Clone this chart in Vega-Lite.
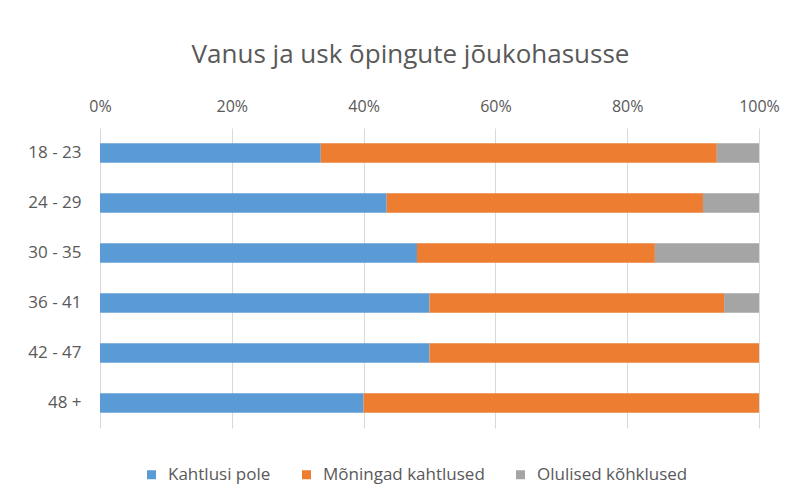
{
  "$schema": "https://vega.github.io/schema/vega-lite/v6.json",
  "width": 659,
  "height": 300,
  "autosize": {"type": "none"},
  "padding": {"left": 100, "top": 128, "right": 44, "bottom": 76},
  "background": "white",
  "title": {
    "text": "Vanus ja usk õpingute jõukohasusse",
    "font": "Open Sans",
    "fontSize": 26,
    "fontWeight": "normal",
    "color": "#595959",
    "anchor": "middle",
    "dx": -19,
    "offset": 30
  },
  "data": {
    "values": [
      {"vanus": "18 - 23", "vastus": "Kahtlusi pole", "osa": 33.5},
      {"vanus": "18 - 23", "vastus": "Mõningad kahtlused", "osa": 60.1},
      {"vanus": "18 - 23", "vastus": "Olulised kõhklused", "osa": 6.4},
      {"vanus": "24 - 29", "vastus": "Kahtlusi pole", "osa": 43.5},
      {"vanus": "24 - 29", "vastus": "Mõningad kahtlused", "osa": 48.0},
      {"vanus": "24 - 29", "vastus": "Olulised kõhklused", "osa": 8.5},
      {"vanus": "30 - 35", "vastus": "Kahtlusi pole", "osa": 48.1},
      {"vanus": "30 - 35", "vastus": "Mõningad kahtlused", "osa": 36.1},
      {"vanus": "30 - 35", "vastus": "Olulised kõhklused", "osa": 15.8},
      {"vanus": "36 - 41", "vastus": "Kahtlusi pole", "osa": 50.0},
      {"vanus": "36 - 41", "vastus": "Mõningad kahtlused", "osa": 44.7},
      {"vanus": "36 - 41", "vastus": "Olulised kõhklused", "osa": 5.3},
      {"vanus": "42 - 47", "vastus": "Kahtlusi pole", "osa": 50.0},
      {"vanus": "42 - 47", "vastus": "Mõningad kahtlused", "osa": 50.0},
      {"vanus": "42 - 47", "vastus": "Olulised kõhklused", "osa": 0},
      {"vanus": "48 +", "vastus": "Kahtlusi pole", "osa": 40.0},
      {"vanus": "48 +", "vastus": "Mõningad kahtlused", "osa": 60.0},
      {"vanus": "48 +", "vastus": "Olulised kõhklused", "osa": 0}
    ]
  },
  "mark": {"type": "bar"},
  "encoding": {
    "y": {
      "field": "vanus",
      "type": "nominal",
      "sort": null,
      "title": null,
      "scale": {"paddingInner": 0.61, "paddingOuter": 0.305},
      "axis": {
        "domain": false,
        "ticks": false,
        "grid": false,
        "labelFont": "Open Sans",
        "labelFontSize": 17,
        "labelColor": "#595959",
        "labelPadding": 19
      }
    },
    "x": {
      "field": "osa",
      "type": "quantitative",
      "stack": "normalize",
      "title": null,
      "scale": {"domain": [0, 1], "nice": false},
      "axis": {
        "orient": "top",
        "values": [0, 0.2, 0.4, 0.6, 0.8, 1],
        "format": ".0%",
        "domain": false,
        "ticks": false,
        "grid": true,
        "gridColor": "#d9d9d9",
        "gridWidth": 1,
        "labelFlush": false,
        "labelFont": "Open Sans",
        "labelFontSize": 16,
        "labelColor": "#595959",
        "labelPadding": 14
      }
    },
    "color": {
      "field": "vastus",
      "type": "nominal",
      "title": null,
      "scale": {
        "domain": ["Kahtlusi pole", "Mõningad kahtlused", "Olulised kõhklused"],
        "range": ["#5B9BD5", "#ED7D31", "#A5A5A5"]
      },
      "legend": {
        "orient": "none",
        "direction": "horizontal",
        "legendX": 43,
        "legendY": 338,
        "symbolType": "square",
        "symbolSize": 81,
        "symbolStrokeWidth": 0,
        "labelFont": "Open Sans",
        "labelFontSize": 17,
        "labelColor": "#595959",
        "labelLimit": 400,
        "labelOffset": 8,
        "columnPadding": 27
      }
    }
  },
  "config": {
    "view": {"stroke": null}
  }
}
